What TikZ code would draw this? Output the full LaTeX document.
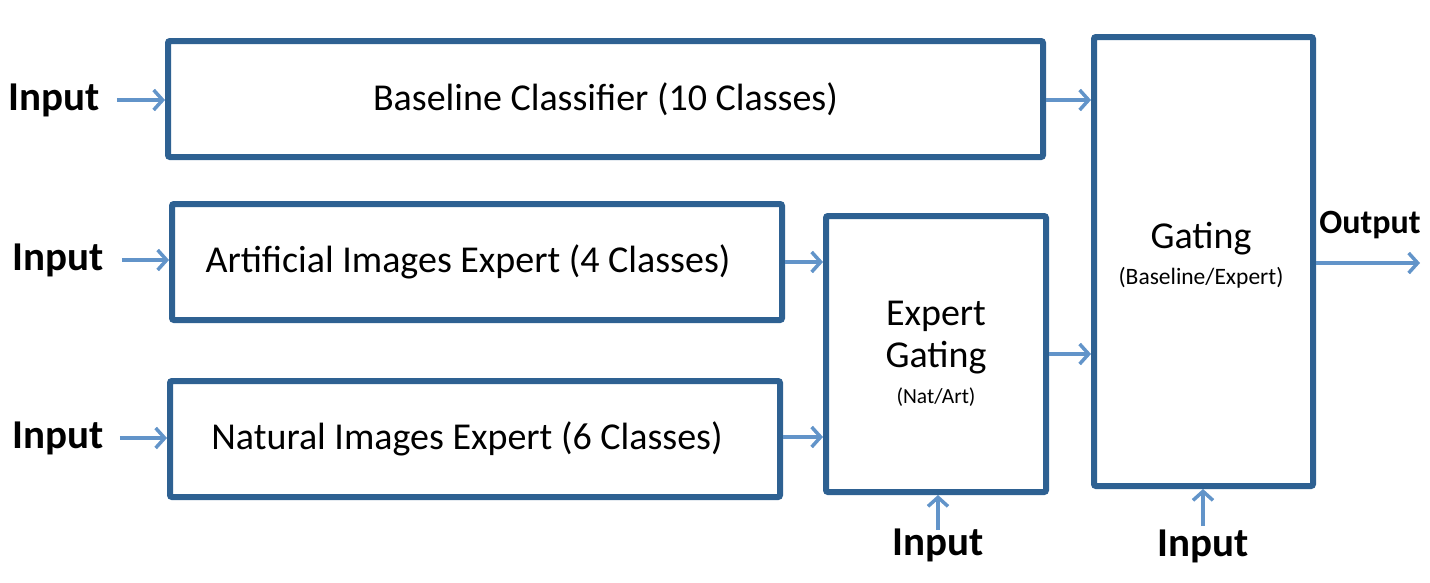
\documentclass[tikz,border=0pt]{standalone}
\usepackage{fontspec}
\setmainfont{Carlito}
\usetikzlibrary{arrows.meta}
\definecolor{boxblue}{RGB}{46,97,146}
\definecolor{arrblue}{RGB}{98,148,201}
\begin{document}
\begin{tikzpicture}[x=1pt,y=-1pt,
  blk/.style={draw=boxblue, line width=6pt, rounded corners=2pt, fill=white, inner sep=0pt, font=\fontsize{38}{44}\selectfont, align=center},
  arr/.style={draw=arrblue, line width=3.5pt, -{Straight Barb[length=9pt,width=20pt]}},
  inp/.style={font=\fontsize{41}{48}\selectfont\bfseries, inner sep=0pt},
  small/.style={font=\fontsize{21}{24}\selectfont}]
\useasboundingbox (0,0) rectangle (1430,582);
\node[blk, minimum width=875pt, minimum height=116pt] (base) at (605.5,99) {Baseline Classifier (10 Classes)};
\node[blk, minimum width=610pt, minimum height=116pt] (art) at (477,262) {Artificial Images Expert (4 Classes)\hspace*{18pt}};
\node[blk, minimum width=610pt, minimum height=116pt] (nat) at (475,439) {Natural Images Expert (6 Classes)\hspace*{16pt}};
\node[blk, minimum width=220pt, minimum height=276pt] (eg) at (936,354) {Expert\\[-2pt]Gating\\[-8pt]{\fontsize{21.5}{24}\selectfont (Nat/Art)}};
\node[blk, minimum width=219pt, minimum height=449pt] (gate) at (1203.5,261.5) {};
\node[align=center, font=\fontsize{38}{40}\selectfont, inner sep=0pt] (gatetxt) at (1201,255) {Gating\\[-4pt]{\fontsize{23.5}{26}\selectfont (Baseline/Expert)}};
\node[inp] (in1) at (54,100) {Input};
\node[inp] (in2) at (58,260) {Input};
\node[inp] (in3) at (58,438) {Input};
\node[inp] (in4) at (938,545) {Input};
\node[inp] (in5) at (1203,546) {Input};
\node[font=\fontsize{34}{40}\selectfont\bfseries, inner sep=0pt] (outtxt) at (1370,225) {Output};
\coordinate (out) at (1420,263);
\draw[arr, shorten <=17pt] (in1.east) -- (in1.east -| base.west);
\draw[arr, shorten <=18pt] (in2.east) -- (in2.east -| art.west);
\draw[arr, shorten <=16pt] (in3.east) -- (in3.east -| nat.west);
\draw[arr] (base.east |- 0,100) -- (gate.west |- 0,100);
\draw[arr] (art.east) -- (art.east -| eg.west);
\draw[arr] (nat.east |- 0,437) -- (eg.west |- 0,437);
\draw[arr] (eg.east) -- (eg.east -| gate.west);
\draw[arr] (gate.east |- out) -- (out);
\draw[arr] (in4.north |- 0,530) -- (in4.north |- eg.south);
\draw[arr] (in5.north |- 0,526) -- (in5.north |- gate.south);
\end{tikzpicture}
\end{document}
